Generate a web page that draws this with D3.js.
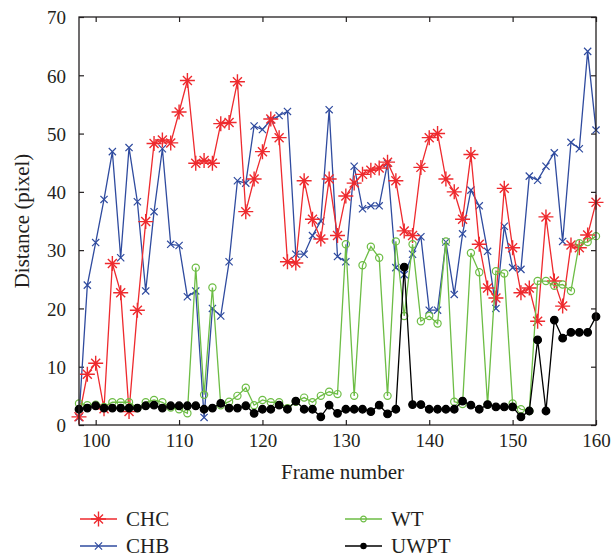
<!DOCTYPE html>
<html>
<head>
<meta charset="utf-8">
<script src="https://cdn.jsdelivr.net/npm/d3@7"></script>
<style>
  body { margin: 0; background: #fff; }
  svg { display: block; }
</style>
</head>
<body>
<div id="chart"></div>
<script>
// frame numbers 98..160
var frameStart = 98;
var frameEnd = 160;
var xTicks = [100, 110, 120, 130, 140, 150, 160];
var yTicks = [0, 10, 20, 30, 40, 50, 60, 70];

var chc = [1.4, 8.7, 10.6, 2.8, 27.7, 22.7, 2.3, 19.7, 34.9, 48.3, 48.9, 48.4, 53.7, 59.1, 44.9, 45.4,
    44.9, 51.7, 51.9, 58.9, 36.6, 42.2, 46.9, 52.5, 49.3, 28.0, 27.8, 41.9, 35.3, 31.9, 42.2, 32.5,
    39.3, 41.5, 43.0, 43.7, 44.1, 45.1, 41.9, 33.3, 32.5, 44.2, 49.3, 50.0, 42.2, 40.0, 35.3, 46.4,
    31.0, 23.5, 21.8, 40.6, 30.4, 22.7, 23.5, 17.8, 35.7, 24.7, 20.4, 30.9, 30.4, 32.6, 38.2];

var chb = [1.3, 24.0, 31.3, 38.7, 46.9, 28.7, 47.6, 38.3, 23.0, 36.6, 47.4, 31.0, 30.8, 22.0, 23.0, 1.3,
    20.0, 18.7, 28.0, 41.9, 41.5, 51.3, 50.7, 52.3, 53.1, 53.8, 29.3, 29.3, 32.5, 35.0, 54.1, 28.9,
    28.0, 44.4, 37.1, 37.6, 37.6, 44.9, 27.0, 25.8, 29.3, 32.3, 19.7, 19.7, 31.4, 22.4, 32.8, 40.3,
    37.6, 29.8, 20.0, 34.1, 27.0, 26.7, 42.7, 42.0, 44.4, 46.7, 31.5, 48.5, 47.4, 64.1, 50.6];

var wt = [3.7, 3.4, 3.5, 3.1, 3.9, 3.9, 3.9, 2.9, 3.9, 4.3, 3.9, 3.0, 2.7, 2.0, 27.0, 5.2,
    23.6, 3.4, 4.0, 5.0, 6.4, 3.4, 4.3, 3.9, 3.9, 2.9, 4.0, 4.7, 3.9, 5.0, 5.7, 5.3,
    31.0, 5.0, 27.4, 30.6, 28.7, 5.0, 31.5, 18.7, 31.0, 17.8, 18.7, 17.4, 31.5, 4.0, 3.6, 29.5,
    26.2, 3.5, 26.4, 26.0, 3.7, 2.7, 2.4, 24.7, 24.7, 23.9, 24.1, 23.0, 31.2, 31.4, 32.4];

var uwpt = [2.7, 2.9, 3.3, 2.9, 2.9, 2.9, 2.9, 2.9, 3.3, 3.4, 2.9, 3.3, 3.3, 3.3, 3.3, 2.7,
    2.9, 3.7, 2.9, 2.9, 3.3, 2.0, 2.7, 2.7, 3.4, 2.7, 4.1, 2.7, 2.7, 1.4, 3.4, 2.0,
    2.7, 2.7, 2.7, 2.3, 3.4, 1.9, 2.7, 27.1, 3.5, 3.5, 2.7, 2.7, 2.7, 2.7, 4.1, 3.4,
    2.7, 3.5, 3.1, 3.1, 3.1, 1.4, 2.4, 14.6, 2.4, 18.0, 14.9, 15.9, 15.9, 15.9, 18.6];

var series = [
    {name: "CHB", values: chb, color: "#2f4b9f", marker: "x"},
    {name: "CHC", values: chc, color: "#ee2a2e", marker: "star"},
    {name: "WT", values: wt, color: "#6dbd45", marker: "circle"},
    {name: "UWPT", values: uwpt, color: "#000000", marker: "dot"}
];

var FONT = "'Liberation Serif', 'DejaVu Serif', serif";

var width = 611, height = 559;
var margin = {top: 17, right: 15, bottom: 134, left: 79};
var w = width - margin.left - margin.right;
var h = height - margin.top - margin.bottom;

var svg = d3.select("#chart").append("svg")
    .attr("width", width)
    .attr("height", height)
    .attr("font-family", FONT);

var g = svg.append("g")
    .attr("transform", "translate(" + margin.left + "," + margin.top + ")");

var x = d3.scaleLinear().domain([frameStart, frameEnd]).range([0, w]);
var y = d3.scaleLinear().domain([0, 70]).range([h, 0]);

// axes, ticks pointing inwards
var xAxis = g.append("g")
    .attr("transform", "translate(0," + h + ")")
    .call(d3.axisBottom(x).tickValues(xTicks).tickSizeInner(-5).tickSizeOuter(0).tickPadding(9));
var xTop = g.append("g")
    .call(d3.axisTop(x).tickValues(xTicks).tickSizeInner(-5).tickSizeOuter(0).tickFormat(""));
var yAxis = g.append("g")
    .call(d3.axisLeft(y).tickValues(yTicks).tickSizeInner(-5).tickSizeOuter(0).tickPadding(13));
var yRight = g.append("g")
    .attr("transform", "translate(" + w + ",0)")
    .call(d3.axisRight(y).tickValues(yTicks).tickSizeInner(-5).tickSizeOuter(0).tickFormat(""));

[xAxis, xTop, yAxis, yRight].forEach(function(a) {
    a.attr("font-family", FONT).attr("font-size", 19);
    a.select(".domain").remove();
    a.selectAll(".tick line").attr("stroke", "#231f20").attr("stroke-width", 1.2);
    a.selectAll(".tick text").attr("fill", "#231f20");
});
yAxis.selectAll(".tick text").attr("dy", "0.36em");

function markerPath(type) {
    if (type == "star") {
        var a = 7.5, b = 4.5;
        return "M" + (-a) + ",0H" + a + "M0," + (-a) + "V" + a +
            "M" + (-b) + "," + (-b) + "L" + b + "," + b +
            "M" + (-b) + "," + b + "L" + b + "," + (-b);
    }
    var c = 3.6;
    return "M" + (-c) + "," + (-c) + "L" + c + "," + c + "M" + (-c) + "," + c + "L" + c + "," + (-c);
}

function drawMarkers(sel, s, rCircle) {
    if (s.marker == "circle" || s.marker == "dot") {
        sel.append("circle")
            .attr("r", s.marker == "dot" ? 3.8 : rCircle)
            .attr("fill", s.marker == "dot" ? s.color : "none")
            .attr("stroke", s.color)
            .attr("stroke-width", 1.2);
    } else {
        sel.append("path")
            .attr("d", markerPath(s.marker))
            .attr("fill", "none")
            .attr("stroke", s.color)
            .attr("stroke-width", s.marker == "star" ? 1.4 : 1.2);
    }
}

var line = d3.line()
    .x(function(d, i) { return x(frameStart + i); })
    .y(function(d) { return y(d); });

series.forEach(function(s) {
    var sg = g.append("g").attr("class", "series");
    sg.append("path")
        .datum(s.values)
        .attr("d", line)
        .attr("fill", "none")
        .attr("stroke", s.color)
        .attr("stroke-width", 1.3);

    var pts = sg.selectAll("g.pt")
        .data(s.values)
        .enter().append("g")
        .attr("class", "pt")
        .attr("transform", function(d, i) {
            return "translate(" + x(frameStart + i) + "," + y(d) + ")";
        });
    drawMarkers(pts, s, 3.6);
});

// frame box
g.append("rect")
    .attr("width", w)
    .attr("height", h)
    .attr("fill", "none")
    .attr("stroke", "#231f20")
    .attr("stroke-width", 1.3);

// axis titles
svg.append("text")
    .attr("x", margin.left + w / 2 + 5)
    .attr("y", 479)
    .attr("text-anchor", "middle")
    .attr("font-size", 21)
    .attr("fill", "#231f20")
    .text("Frame number");

svg.append("text")
    .attr("transform", "translate(29," + (margin.top + h / 2) + ") rotate(-90)")
    .attr("text-anchor", "middle")
    .attr("font-size", 21)
    .attr("fill", "#231f20")
    .text("Distance (pixel)");

// legend
var legendItems = [
    {s: series[1], x: 80, y: 519},
    {s: series[0], x: 80, y: 546},
    {s: series[2], x: 345, y: 519},
    {s: series[3], x: 345, y: 546}
];

legendItems.forEach(function(item) {
    var lg = svg.append("g").attr("transform", "translate(" + item.x + "," + item.y + ")");
    lg.append("line")
        .attr("x1", 0).attr("x2", 37)
        .attr("stroke", item.s.color)
        .attr("stroke-width", 1.3);
    var m = lg.append("g").attr("transform", "translate(18.5,0)");
    if (item.s.marker == "dot") {
        m.append("circle").attr("r", 3.2).attr("fill", item.s.color);
    } else {
        drawMarkers(m, item.s, 2.8);
    }
    lg.append("text")
        .attr("x", 46)
        .attr("dy", "0.35em")
        .attr("font-size", 21)
        .attr("fill", "#231f20")
        .text(item.s.name);
});
</script>
</body>
</html>
